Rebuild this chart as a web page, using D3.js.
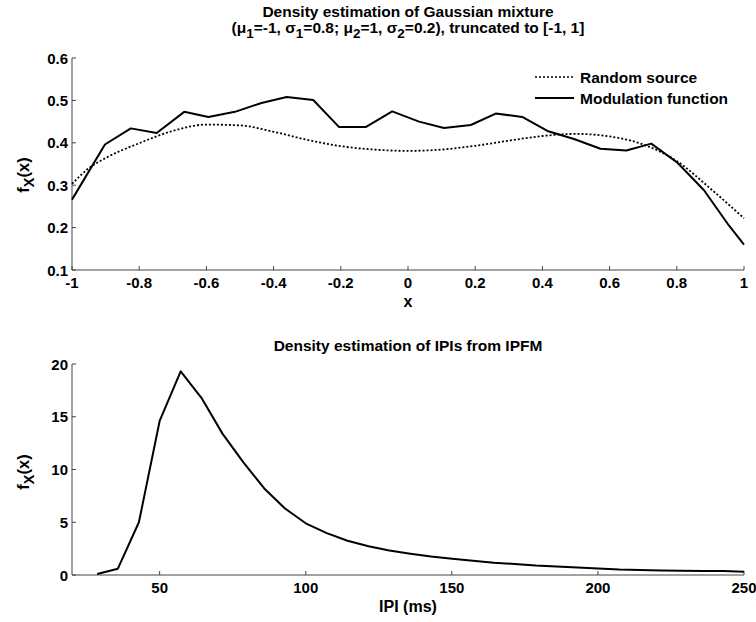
<!DOCTYPE html>
<html>
<head>
<meta charset="utf-8">
<script src="https://cdn.jsdelivr.net/npm/d3@7"></script>
<style>
  html, body { margin: 0; padding: 0; background: #fff; }
  svg { display: block; font-family: "Liberation Sans", Arial, Helvetica, sans-serif; font-weight: bold; }
</style>
</head>
<body>
<svg id="chart" width="756" height="622"></svg>
<script>
// --- Top panel: truncated Gaussian mixture on [-1, 1] ---
const mixX = [-1, -0.902, -0.825, -0.748, -0.666, -0.594, -0.515, -0.436, -0.361, -0.282,
  -0.205, -0.126, -0.047, 0.033, 0.107, 0.187, 0.261, 0.340, 0.415, 0.494,
  0.573, 0.650, 0.724, 0.802, 0.881, 0.955, 1.0];
const modulationValues = [0.266, 0.396, 0.434, 0.423, 0.473, 0.461, 0.473, 0.494, 0.508, 0.501,
  0.437, 0.437, 0.474, 0.450, 0.435, 0.442, 0.469, 0.461, 0.428, 0.409,
  0.386, 0.382, 0.398, 0.353, 0.288, 0.205, 0.160];

const sourceX = [-1, -0.95, -0.9, -0.8, -0.7, -0.6, -0.5, -0.4, -0.3, -0.2, -0.1,
  0, 0.1, 0.2, 0.3, 0.4, 0.5, 0.6, 0.7, 0.8, 0.9, 1.0];
const sourceValues = [0.303, 0.340, 0.364, 0.399, 0.428, 0.443, 0.441, 0.426, 0.407, 0.392, 0.384,
  0.381, 0.384, 0.393, 0.405, 0.416, 0.421, 0.415, 0.396, 0.357, 0.292, 0.222];

const topXTicks = [-1, -0.8, -0.6, -0.4, -0.2, 0, 0.2, 0.4, 0.6, 0.8, 1];
const topYTicks = [0.1, 0.2, 0.3, 0.4, 0.5, 0.6];
const legendLabels = ["Random source", "Modulation function"];

// --- Bottom panel: inter-pulse intervals from IPFM ---
const ipiX = [28.6, 35.7, 42.9, 50.0, 57.2, 64.3, 71.5, 78.6, 85.8, 92.9,
  100.0, 107.2, 114.3, 121.5, 128.6, 135.8, 142.9, 150.1, 157.2, 164.4,
  171.5, 178.7, 185.8, 193.0, 200.1, 207.3, 214.4, 221.6, 228.7, 235.9, 243.0, 250];
const ipiDensity = [0.1, 0.6, 5.0, 14.6, 19.3, 16.8, 13.4, 10.7, 8.2, 6.3,
  4.9, 3.97, 3.25, 2.72, 2.32, 2.02, 1.75, 1.55, 1.36, 1.17,
  1.05, 0.90, 0.80, 0.70, 0.62, 0.52, 0.47, 0.42, 0.40, 0.39, 0.37, 0.31];
const bottomXTicks = [50, 100, 150, 200, 250];
const bottomYTicks = [0, 5, 10, 15, 20];

const svg = d3.select("#chart");
const axisColor = "#444";
const tickLen = 4;
const tickFont = 15;
const labelFont = 15.5;

function drawAxes(g, x, y, xTicks, yTicks, fmtX, fmtY) {
  const [x0, x1] = x.range();
  const [y0, y1] = y.range(); // y0 bottom, y1 top
  g.append("line").attr("x1", x0).attr("x2", x1).attr("y1", y0).attr("y2", y0)
    .attr("stroke", axisColor).attr("stroke-width", 1);
  g.append("line").attr("x1", x0).attr("x2", x0).attr("y1", y0).attr("y2", y1)
    .attr("stroke", axisColor).attr("stroke-width", 1);
  xTicks.forEach(t => {
    const px = x(t);
    g.append("line").attr("x1", px).attr("x2", px).attr("y1", y0).attr("y2", y0 - tickLen)
      .attr("stroke", axisColor).attr("stroke-width", 1);
    g.append("text").attr("x", px).attr("y", y0 + 18).attr("text-anchor", "middle")
      .attr("font-size", tickFont).text(fmtX(t));
  });
  yTicks.forEach(t => {
    const py = y(t);
    g.append("line").attr("x1", x0).attr("x2", x0 + tickLen).attr("y1", py).attr("y2", py)
      .attr("stroke", axisColor).attr("stroke-width", 1);
    g.append("text").attr("x", x0 - 4).attr("y", py + 5.5).attr("text-anchor", "end")
      .attr("font-size", tickFont).text(fmtY(t));
  });
}

function yLabel(g, cx, cy) {
  const t = g.append("text").attr("transform", `translate(${cx},${cy}) rotate(-90)`)
    .attr("text-anchor", "middle").attr("font-size", 16.5);
  t.append("tspan").text("f");
  t.append("tspan").attr("font-size", 14.5).attr("dy", 5).text("X");
  t.append("tspan").attr("dy", -5).text("(x)");
}

// ---------- Top panel ----------
const xTop = d3.scaleLinear().domain([-1, 1]).range([72, 744]);
const yTop = d3.scaleLinear().domain([0.1, 0.6]).range([270, 58]);
const gTop = svg.append("g");

const fmtTopX = d => d === 0 ? "0" : Number.isInteger(d) ? String(d) : d.toFixed(1);
drawAxes(gTop, xTop, yTop, topXTicks, topYTicks, fmtTopX, d => d.toFixed(1));

const lineSource = d3.line().x((d, i) => xTop(sourceX[i])).y(d => yTop(d)).curve(d3.curveMonotoneX);
gTop.append("path").datum(sourceValues).attr("d", lineSource)
  .attr("fill", "none").attr("stroke", "#000").attr("stroke-width", 1.8)
  .attr("stroke-dasharray", "2,2");

const lineMod = d3.line().x((d, i) => xTop(mixX[i])).y(d => yTop(d));
gTop.append("path").datum(modulationValues).attr("d", lineMod)
  .attr("fill", "none").attr("stroke", "#000").attr("stroke-width", 2).attr("stroke-linejoin", "round");

// Title with subscripts
gTop.append("text").attr("x", 408).attr("y", 17).attr("text-anchor", "middle")
  .attr("font-size", labelFont).text("Density estimation of Gaussian mixture");
const title2 = gTop.append("text").attr("x", 408).attr("y", 33).attr("text-anchor", "middle")
  .attr("font-size", labelFont);
const parts = [["(μ", null], ["1", "sub"], ["=-1, σ", null], ["1", "sub"], ["=0.8; μ", null],
  ["2", "sub"], ["=1, σ", null], ["2", "sub"], ["=0.2), truncated to [-1, 1]", null]];
parts.forEach(([txt, kind], i) => {
  const ts = title2.append("tspan").text(txt);
  if (kind === "sub") ts.attr("dy", 5).attr("font-size", 13.5);
  else ts.attr("dy", i > 0 ? -5 : 0);
});

yLabel(gTop, 29, 175);
gTop.append("text").attr("x", 408).attr("y", 307).attr("text-anchor", "middle")
  .attr("font-size", 16).text("x");

// Legend
const legend = gTop.append("g");
legendLabels.forEach((lab, i) => {
  const ly = 77 + i * 21;
  legend.append("line").attr("x1", 535).attr("x2", 574).attr("y1", ly).attr("y2", ly)
    .attr("stroke", "#000").attr("stroke-width", i === 0 ? 1.5 : 2)
    .attr("stroke-dasharray", i === 0 ? "2,2" : null);
  legend.append("text").attr("x", 580).attr("y", ly + 5.5).attr("font-size", labelFont).text(lab);
});

// ---------- Bottom panel ----------
const xBot = d3.scaleLinear().domain([20, 250]).range([72, 744]);
const yBot = d3.scaleLinear().domain([0, 20]).range([575, 364]);
const gBot = svg.append("g");
drawAxes(gBot, xBot, yBot, bottomXTicks, bottomYTicks, d => String(d), d => String(d));

const lineIpi = d3.line().x((d, i) => xBot(ipiX[i])).y(d => yBot(d));
gBot.append("path").datum(ipiDensity).attr("d", lineIpi)
  .attr("fill", "none").attr("stroke", "#000").attr("stroke-width", 2).attr("stroke-linejoin", "round");

gBot.append("text").attr("x", 408).attr("y", 351).attr("text-anchor", "middle")
  .attr("font-size", labelFont).text("Density estimation of IPIs from IPFM");
yLabel(gBot, 29, 472);
gBot.append("text").attr("x", 408).attr("y", 612).attr("text-anchor", "middle")
  .attr("font-size", 16).text("IPI (ms)");
</script>
</body>
</html>
